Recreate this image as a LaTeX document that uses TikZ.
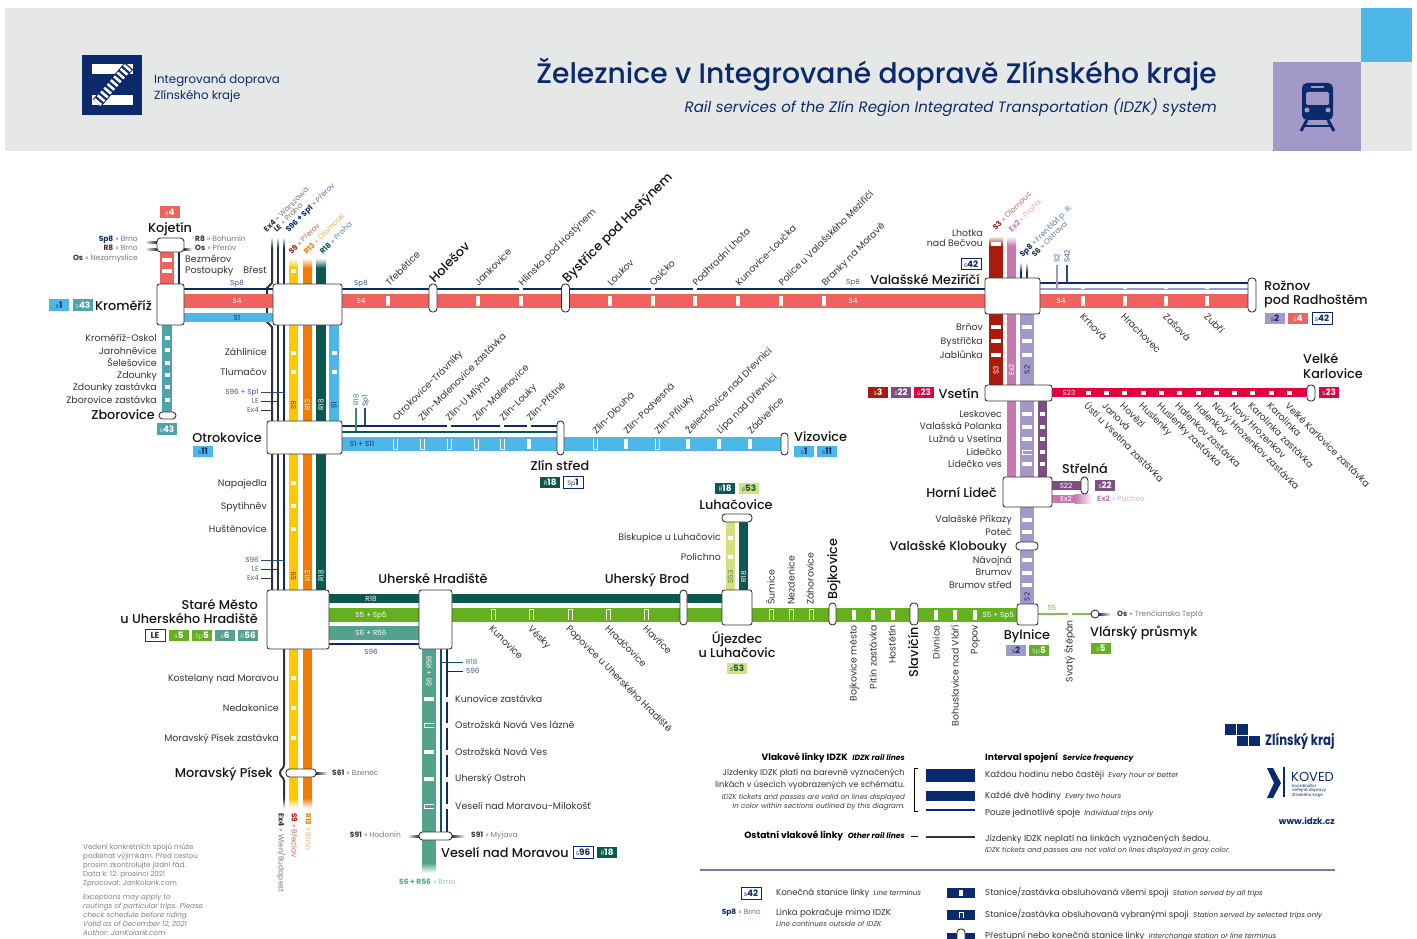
\documentclass[tikz,border=0pt]{standalone}
\usepackage{fontspec}
\setmainfont{Poppins}
\newfontfamily\cityfont{Poppins Medium}
\usetikzlibrary{backgrounds}
\definecolor{colNavy}{RGB}{11,42,107}
\definecolor{colHead}{RGB}{230,232,231}
\definecolor{colS1}{RGB}{77,184,232}
\definecolor{colS2}{RGB}{163,153,201}
\definecolor{colS3}{RGB}{168,28,16}
\definecolor{colS4}{RGB}{240,98,93}
\definecolor{colS5}{RGB}{100,176,31}
\definecolor{colS6}{RGB}{83,163,140}
\definecolor{colS9}{RGB}{255,200,0}
\definecolor{colS22}{RGB}{123,79,127}
\definecolor{colS23}{RGB}{228,0,63}
\definecolor{colS43}{RGB}{80,163,172}
\definecolor{colS53}{RGB}{214,224,127}
\definecolor{colR13}{RGB}{244,123,0}
\definecolor{colR18}{RGB}{10,88,80}
\definecolor{colEx2}{RGB}{200,120,176}
\definecolor{colGrey}{RGB}{51,51,51}
\tikzset{
  stationbox/.style={draw=black!80,fill=white,line width=0.9pt,rounded corners=2.5pt,inner sep=0},
  stationpill/.style={stationbox,rounded corners=3.5pt},
  stoplbl/.style={font=\fontsize{9.4}{10}\selectfont,text=black!80,inner sep=0,text height=8pt,text depth=1pt},
  citylbl/.style={font=\cityfont\fontsize{12.8}{14}\selectfont,text=black!92,inner sep=0,text height=11.5pt,text depth=1.5pt},
  linelbl/.style={font=\fontsize{7.2}{8}\selectfont,inner sep=0,text height=6pt,text depth=1pt},
  extlbl/.style={font=\fontsize{7.5}{8}\selectfont,inner sep=0,text height=6pt,text depth=1pt},
  notelbl/.style={font=\fontsize{8.6}{9}\selectfont,text=black!80,inner sep=0,text height=6.8pt,text depth=1.4pt},
  boldlbl/.style={font=\fontsize{9.1}{10}\selectfont\bfseries,text=black,inner sep=0,text height=6.8pt,text depth=1.4pt},
  smalllbl/.style={font=\fontsize{7.1}{8}\selectfont\itshape,text=black!75,inner sep=0,text height=6pt,text depth=1pt},
  greylbl/.style={font=\fontsize{7.1}{9}\selectfont,text=black!50,inner sep=0,align=left},
  badge/.style={minimum width=20pt,minimum height=11.5pt,inner sep=0,text=white,font=\fontsize{8.8}{9}\selectfont,text height=6.2pt,text depth=0pt},
  badgeline/.style={badge,draw=colNavy,fill=white,text=colNavy,line width=0.8pt},
  railnavy/.style={draw=colNavy,line width=2pt},
  railgrey/.style={draw=colGrey,line width=2pt},
}
\def\bnum#1#2{{\color{.!70!gray}\fontsize{6.4}{6}\selectfont #1}{\bfseries #2}}
\def\ext#1#2#3{\textcolor{#1}{\bfseries #2}\textcolor{#1!65}{\ »\ #3}}
\def\eng#1{\enspace{\fontsize{7.1}{8}\selectfont\itshape #1}}
\def\engb#1{\enspace{\fontsize{7.6}{8}\selectfont\itshape #1}}
\def\stopH#1#2{\fill[white] (#1-5,#2-2) rectangle (#1+5,#2+2);}
\def\stopS#1#2{\fill[white] (#1-2.5,#2-2) rectangle (#1+2.5,#2+2);}
\def\stopV#1#2{\fill[white] (#1-2,#2-5) rectangle (#1+2,#2+5);}
\def\holdV#1#2#3{\draw[white,line width=0.8pt] (#1-2,#2-#3*5.5) -- (#1-2,#2+#3*5.5) -- (#1+2,#2+#3*5.5) -- (#1+2,#2-#3*5.5);}
\def\holdH#1#2{\draw[white,line width=0.8pt] (#1+5,#2-2) -- (#1-5,#2-2) -- (#1-5,#2+2) -- (#1+5,#2+2);}
\def\gapmark#1#2{\fill[white] (#1-2,#2-2.5) rectangle (#1+2,#2+2.5);}
\begin{document}
\begin{tikzpicture}[x=1pt,y=-1pt]
\useasboundingbox (0,0) rectangle (1417,939);
% header
\fill[colHead] (5,8) rectangle (1412,151);
\fill[colS1] (1361,8) rectangle (1412,62);
\fill[colS2] (1273,62) rectangle (1361,151);
\fill[colNavy] (82,55) rectangle (142,115);
\fill[white] (92,64) rectangle (133,74);
\fill[white] (92,95) rectangle (133,105);
\draw[colNavy,line width=11pt] (97,103) -- (129,66);
\draw[white,line width=9pt,dash pattern=on 2.6pt off 2.4pt] (97,103) -- (129,66);
\node[anchor=west,inner sep=0,text=colNavy,font=\fontsize{11.8}{13}\selectfont,text height=10pt,text depth=0pt] (tLogoA) at (154,79) {Integrovaná doprava};
\node[anchor=west,inner sep=0,text=colNavy,font=\fontsize{11.8}{13}\selectfont,text height=10pt,text depth=0pt] (tLogoB) at (154,95) {Zlínského kraje};
\node[anchor=east,inner sep=0,text=colNavy,font=\cityfont\fontsize{28.2}{30}\selectfont,text height=25pt,text depth=2pt] (tTitle) at (1217,72) {Železnice v Integrované dopravě Zlínského kraje};
\node[anchor=east,inner sep=0,text=colNavy,font=\fontsize{15}{16}\selectfont\itshape,text height=14pt,text depth=0.5pt] (tSub) at (1217,106) {Rail services of the Zlín Region Integrated Transportation (IDZK) system};
% train
\fill[colNavy,rounded corners=5pt] (1302,83) rectangle (1333,120);
\fill[colS2,rounded corners=1.5pt] (1306,92) rectangle (1329,105);
\fill[colS2] (1311,86) rectangle (1324,88);
\fill[colS2] (1307,110) circle (2.5);
\fill[colS2] (1328,110) circle (2.5);
\draw[colNavy,line width=3pt] (1307,120) -- (1301,131);
\draw[colNavy,line width=3pt] (1328,120) -- (1334,131);
\draw[colNavy,line width=2pt] (1304,126) -- (1331,126);
% stations
\node[stationpill,minimum width=27pt,minimum height=14pt] (kojetin) at (170.5,245) {};
\node[stationbox,minimum width=27pt,minimum height=41pt] (kromeriz) at (170.5,304.5) {};
\node[stationpill,minimum width=17pt,minimum height=7pt] (zborovice) at (167.5,415.5) {};
\node[stationbox,minimum width=69pt,minimum height=41pt] (brest) at (307.5,304.5) {};
\node[stationbox,minimum width=75pt,minimum height=33pt] (otrokovice) at (304.5,437.5) {};
\node[stationbox,minimum width=62pt,minimum height=59pt] (staremesto) at (298,619.5) {};
\node[stationpill,minimum width=30pt,minimum height=8pt] (moravskypisek) at (301,773) {};
\node[stationbox,minimum width=33pt,minimum height=59pt] (uherskehradiste) at (435.5,619.5) {};
\node[stationpill,minimum width=33pt,minimum height=8pt] (veseli) at (435.5,836) {};
\node[stationpill,minimum width=8pt,minimum height=28pt] (holesov) at (433,298) {};
\node[stationpill,minimum width=8pt,minimum height=28pt] (bystrice) at (565.5,298) {};
\node[stationpill,minimum width=7pt,minimum height=34pt] (zlin) at (560.5,438) {};
\node[stationpill,minimum width=7pt,minimum height=22pt] (vizovice) at (784.5,444) {};
\node[stationpill,minimum width=7pt,minimum height=35pt] (uherskybrod) at (683.5,607.5) {};
\node[stationbox,minimum width=30pt,minimum height=35pt] (ujezdec) at (737,607.5) {};
\node[stationpill,minimum width=30pt,minimum height=8pt] (luhacovice) at (737,518) {};
\node[stationpill,minimum width=7pt,minimum height=22pt] (bojkovice) at (832.5,614) {};
\node[stationpill,minimum width=8pt,minimum height=22pt] (slavicin) at (914,614) {};
\node[stationbox,minimum width=21pt,minimum height=21pt] (bylnice) at (1027.5,614.5) {};
\node[stationpill,minimum width=8pt,minimum height=8pt,rounded corners=4pt] (vlarsky) at (1095,614) {};
\node[stationbox,minimum width=55pt,minimum height=36pt] (valmez) at (1012.5,296) {};
\node[stationpill,minimum width=8pt,minimum height=34pt] (roznov) at (1252,295) {};
\node[stationbox,minimum width=67pt,minimum height=16pt] (vsetin) at (1018.5,393) {};
\node[stationpill,minimum width=8pt,minimum height=16pt] (karlovice) at (1311,393) {};
\node[stationbox,minimum width=49pt,minimum height=30pt] (hornilidec) at (1027.5,492) {};
\node[stationpill,minimum width=7pt,minimum height=17pt] (strelna) at (1084.5,485.5) {};
\node[stationpill,minimum width=22pt,minimum height=8pt] (klobouky) at (1027,546) {};
% levels of the lines
\coordinate (ySp8) at (0,289);
\coordinate (yS4) at (0,301);
\coordinate (yS1) at (0,317.5);
\coordinate (yNavyZ) at (0,425.5);
\coordinate (yR18Z) at (0,431.5);
\coordinate (yS11) at (0,444);
\coordinate (yR18H) at (0,598.5);
\coordinate (yS5) at (0,614.5);
\coordinate (yS6) at (0,632.5);
\coordinate (yS96) at (0,644);
\coordinate (yNavyR) at (0,283);
\coordinate (yS2R) at (0,289);
\coordinate (yS23) at (0,392.5);
\coordinate (yS22) at (0,485.5);
\coordinate (yEx2H) at (0,499);
\coordinate (xKoj) at (167,0);
\coordinate (xKojN) at (179,0);
\coordinate (xEx) at (272,0);
\coordinate (xLE) at (278,0);
\coordinate (xSp1) at (284,0);
\coordinate (xS9) at (293.5,0);
\coordinate (xR13) at (307.5,0);
\coordinate (xR18) at (321,0);
\coordinate (xS1) at (334,0);
\coordinate (xS6) at (429,0);
\coordinate (xR18V) at (441,0);
\coordinate (xS96V) at (447,0);
\coordinate (xS53) at (730.5,0);
\coordinate (xR18L) at (743.5,0);
\coordinate (xS3) at (996,0);
\coordinate (xEx2) at (1011.5,0);
\coordinate (xS2) at (1027,0);
\coordinate (xS22) at (1042.5,0);
\begin{scope}[on background layer]
\draw[railnavy] (xKojN |- kojetin) -- (xKojN |- ySp8);
\draw[colS43,line width=10pt] (xKoj |- kromeriz) -- (xKoj |- zborovice);
\draw[colS4,line width=14pt] (xKoj |- kojetin) -- (xKoj |- kromeriz);
\shade[left color=white,right color=colNavy] (145,241) rectangle (157,243);
\shade[left color=white,right color=colGrey] (145,248) rectangle (157,250);
\shade[left color=colGrey,right color=white] (184,248) rectangle (192,250);
% lines from the north to Stare Mesto
\shade[top color=white,bottom color=colGrey] (271,237) rectangle (273,248);
\shade[top color=white,bottom color=colGrey] (277,237) rectangle (279,248);
\shade[top color=white,bottom color=colNavy] (283,237) rectangle (285,248);
\draw[railgrey] (272,248) -- (272,283) -- (267,288) -- (267,322) -- (272,327) -- (xEx |- staremesto);
\draw[railgrey] (278,248) -- (xLE |- staremesto);
\draw[railnavy] (284,248) -- (xSp1 |- staremesto);
% main line
\draw[railnavy] (kromeriz |- ySp8) -- (valmez |- ySp8);
\draw[railnavy] (valmez |- yNavyR) -- (roznov |- yNavyR);
\draw[draw=colS2,line width=2pt] (valmez |- yS2R) -- (roznov |- yS2R);
\draw[colS4,line width=14pt] (kromeriz |- yS4) -- (roznov |- yS4);
\draw[colS1,line width=9.5pt] (kromeriz |- yS1) -- (brest |- yS1);
\draw[draw=colS2,line width=1.2pt] (1057,265) -- (1057,289);
\draw[draw=colNavy!85,line width=1.2pt] (1067,265) -- (1067,283);
\shade[top color=white,bottom color=colS9] (289,258) rectangle (298,268);
\shade[top color=white,bottom color=colR13] (303,258) rectangle (312,268);
\shade[top color=white,bottom color=colR18] (316,258) rectangle (326,268);
\draw[colS9,line width=9.5pt] (293.5,268) -- (xS9 |- staremesto);
\draw[colR13,line width=9.5pt] (307.5,268) -- (xR13 |- staremesto);
\draw[colR18,line width=9.5pt] (321,268) -- (xR18 |- staremesto);
\draw[colS1,line width=9.5pt] (xS1 |- brest) -- (xS1 |- otrokovice);
% to Zlin and Vizovice
\draw[railnavy] (otrokovice |- yNavyZ) -- (zlin |- yNavyZ);
\draw[colR18,line width=2pt] (otrokovice |- yR18Z) -- (zlin |- yR18Z);
\draw[colS1,line width=14pt] (otrokovice |- yS11) -- (vizovice |- yS11);
\draw[draw=colS6!80!black,line width=1.2pt] (356,408) -- (356,431);
\draw[draw=colNavy!85,line width=1.2pt] (365,408) -- (365,425);
% side labels of the north lines
\draw[draw=colNavy!85,line width=1pt] (261,392) -- (284,392);
\draw[draw=colGrey,line width=1pt] (261,401) -- (278,401);
\draw[draw=colGrey,line width=1pt] (261,410) -- (272,410);
\draw[draw=colNavy!85,line width=1pt] (261,560) -- (284,560);
\draw[draw=colGrey,line width=1pt] (261,569) -- (278,569);
\draw[draw=colGrey,line width=1pt] (261,578) -- (272,578);
% south of Stare Mesto
\draw[railgrey] (284,649) -- (284,765) .. controls (284,769) and (280,769) .. (280,773) .. controls (280,777) and (284,777) .. (284,781) -- (284,798);
\shade[top color=colGrey,bottom color=white] (283,798) rectangle (285,808);
\draw[colS9,line width=9.5pt] (xS9 |- staremesto) -- (293.5,798);
\draw[colR13,line width=9.5pt] (xR13 |- staremesto) -- (307.5,798);
\shade[top color=colS9,bottom color=white] (289,798) rectangle (298,808);
\shade[top color=colR13,bottom color=white] (303,798) rectangle (312,808);
\shade[left color=colGrey,right color=white] (316,772) rectangle (328,774);
% to Uhersky Brod and Bylnice
\draw[colR18,line width=9.5pt] (staremesto |- yR18H) -- (ujezdec |- yR18H);
\draw[colS5,line width=14pt] (staremesto |- yS5) -- (bylnice |- yS5);
\draw[colS6,line width=14pt] (staremesto |- yS6) -- (uherskehradiste |- yS6);
\draw[railnavy] (staremesto |- yS96) -- (uherskehradiste |- yS96);
% to Veseli
\draw[colS6,line width=14pt] (xS6 |- uherskehradiste) -- (429,863);
\shade[top color=colS6,bottom color=white] (422,863) rectangle (436,873);
\draw[colR18,line width=2pt] (xR18V |- uherskehradiste) -- (xR18V |- veseli);
\draw[railnavy] (xS96V |- uherskehradiste) -- (xS96V |- veseli);
\draw[colR18,line width=1pt] (441,662) -- (463,662);
\draw[draw=colNavy,line width=1pt] (447,671) -- (463,671);
\shade[left color=white,right color=colGrey] (407,835) rectangle (419,837);
\shade[left color=colGrey,right color=white] (452,835) rectangle (465,837);
% Luhacovice
\draw[colS53,line width=9.5pt] (xS53 |- ujezdec) -- (xS53 |- luhacovice);
\draw[colR18,line width=9.5pt] (xR18L |- ujezdec) -- (xR18L |- luhacovice);
% Vlarsky
\draw[colS5!80!white,line width=2pt] (bylnice |- vlarsky) -- (vlarsky);
\shade[left color=colGrey,right color=white] (1099,613) rectangle (1111,615);
% Valasske Mezirici to Bylnice
\shade[top color=white,bottom color=colS3] (989,236) rectangle (1003,246);
\shade[top color=white,bottom color=colEx2] (1007,236) rectangle (1016,246);
\shade[top color=white,bottom color=colNavy] (1020,262) rectangle (1022,272);
\shade[top color=white,bottom color=colGrey] (1026,262) rectangle (1028,272);
\draw[railnavy] (1021,272) -- (1021,280);
\draw[railgrey] (1027,272) -- (1027,280);
\draw[colS3,line width=14pt] (996,246) -- (xS3 |- vsetin);
\draw[colEx2,line width=9.5pt] (1011.5,246) -- (xEx2 |- hornilidec);
\draw[colS2,line width=14pt] (xS2 |- valmez) -- (xS2 |- bylnice);
\draw[colS22,line width=9.5pt] (xS22 |- vsetin) -- (xS22 |- hornilidec);
\draw[colS23,line width=9.5pt] (vsetin |- yS23) -- (karlovice |- yS23);
\draw[colS22,line width=9.5pt] (hornilidec |- yS22) -- (strelna |- yS22);
\draw[colEx2,line width=8.5pt] (hornilidec |- yEx2H) -- (1075,499);
\shade[left color=colEx2,right color=white] (1075,494.75) rectangle (1093,503.25);
% stops
\stopH{167}{260} \stopH{167}{271}
\stopS{167}{338} \stopS{167}{350} \stopS{167}{363} \stopS{167}{375} \stopS{167}{387} \stopS{167}{400}
\stopS{293.5}{271} \stopS{293.5}{353} \stopS{293.5}{372} \stopS{334}{353} \stopS{334}{372}
\stopS{293.5}{483} \stopS{293.5}{506} \stopS{293.5}{529}
\stopS{293.5}{678} \stopS{293.5}{708} \stopS{293.5}{738}
\stopV{388}{301} \stopV{478}{301} \stopV{521}{301} \stopV{610}{301} \stopV{653}{301} \stopV{695}{301} \stopV{738}{301} \stopV{781}{301} \stopV{824}{301}
\stopV{1083}{301} \stopV{1125}{301} \stopV{1166}{301} \stopV{1207}{301}
\gapmark{521}{289} \gapmark{653}{289} \gapmark{695}{289}
\gapmark{1083}{286} \gapmark{1125}{286} \gapmark{1166}{286} \gapmark{1207}{286}
\holdV{395}{444}{1} \holdV{422}{444}{1} \holdV{449}{444}{1} \holdV{476}{444}{1} \holdV{502}{444}{1} \stopV{529}{444}
\holdV{595}{444}{1} \stopV{626}{444} \holdV{657}{444}{1} \stopV{688}{444} \stopV{719}{444} \stopV{750}{444}
\gapmark{449}{425.5} \gapmark{502}{425.5} \gapmark{529}{425.5}
\holdV{493}{614.5}{-1} \holdV{531}{614.5}{-1} \holdV{570}{614.5}{-1} \holdV{608}{614.5}{-1} \holdV{646}{614.5}{-1}
\holdV{771}{614.5}{-1} \holdV{791}{614.5}{-1} \holdV{811}{614.5}{-1}
\stopV{854}{614.5} \stopV{873}{614.5} \stopV{893}{614.5} \stopV{936}{614.5} \stopV{955}{614.5} \stopV{975}{614.5}
\gapmark{1070}{614}
\stopS{730.5}{538} \stopS{730.5}{557}
\stopH{429}{699} \holdH{429}{725} \stopH{429}{752} \stopH{429}{779} \holdH{429}{806}
\gapmark{448}{699} \gapmark{448}{725} \gapmark{448}{752} \gapmark{448}{779} \gapmark{448}{806}
\stopH{996}{244} \stopH{996}{327} \stopH{996}{341} \stopH{996}{355}
\stopH{1027}{327} \stopH{1027}{341} \stopH{1027}{355}
\stopH{1027}{414} \stopH{1027}{427} \stopH{1027}{439} \holdH{1027}{452} \stopH{1027}{464}
\stopS{1042.5}{414} \stopS{1042.5}{427} \stopS{1042.5}{439} \stopS{1042.5}{452} \stopS{1042.5}{464}
\stopH{1027}{520} \stopH{1027}{532} \stopH{1027}{560} \stopH{1027}{573} \stopH{1027}{585}
\stopS{1088}{393} \stopS{1106}{393} \stopS{1124}{393} \stopS{1143}{393} \stopS{1161}{393} \stopS{1179}{393} \stopS{1198}{393} \stopS{1216}{393} \stopS{1234}{393} \stopS{1252}{393} \stopS{1271}{393} \stopS{1289}{393}
\end{scope}
% Kojetin and Kromeriz
\node[citylbl,anchor=center] (tKojetin) at (170,228) {Kojetín};
\node[badge,fill=colS4] (bKojetin) at (170,212) {\bnum{s}{4}};
\node[extlbl,anchor=east] (xSp8Brno) at (138,239) {\ext{colNavy}{Sp8}{Brno}};
\node[extlbl,anchor=east] (xR8Brno) at (138,248) {\ext{colGrey}{R8}{Brno}};
\node[extlbl,anchor=east] (xOsNez) at (138,258) {\ext{colGrey}{Os}{Nezamyslice}};
\node[extlbl,anchor=west] (xR8Boh) at (195,239) {\ext{colGrey}{R8}{Bohumín}};
\node[extlbl,anchor=west] (xOsPrerov) at (195,248) {\ext{colGrey}{Os}{Přerov}};
\node[stoplbl,anchor=west] (sBezmerov) at (185,259) {Bezměrov};
\node[stoplbl,anchor=west] (sPostoupky) at (185,270) {Postoupky};
\node[stoplbl,anchor=east] (sBrest) at (267,270) {Břest};
\node[citylbl,anchor=east] (tKromeriz) at (152,305) {Kroměříž};
\node[badge,fill=colS1,text=colNavy] (bKromA) at (59,305) {\bnum{s}{1}};
\node[badge,fill=colS43] (bKromB) at (83,305) {\bnum{s}{43}};
\node[stoplbl,anchor=east] (sOskol) at (157,338) {Kroměříž-Oskol};
\node[stoplbl,anchor=east] (sJaroh) at (157,351) {Jarohněvice};
\node[stoplbl,anchor=east] (sSeles) at (157,363) {Šelešovice};
\node[stoplbl,anchor=east] (sZdounky) at (157,375) {Zdounky};
\node[stoplbl,anchor=east] (sZdounkyZ) at (157,387) {Zdounky zastávka};
\node[stoplbl,anchor=east] (sZborZ) at (157,400) {Zborovice zastávka};
\node[citylbl,anchor=east] (tZborovice) at (155,414) {Zborovice};
\node[badge,fill=colS43] (bZbor) at (167,429) {\bnum{s}{43}};
% lines at the top
\node[extlbl,rotate=45,anchor=west] (xEx4top) at (265,231) {\ext{colGrey}{Ex4}{Warszawa}};
\node[extlbl,rotate=45,anchor=west] (xLEtop) at (275,231) {\ext{colGrey}{LE}{Praha}};
\node[extlbl,rotate=45,anchor=west] (xS96top) at (287,231) {\ext{colNavy}{S96 + Sp1}{Přerov}};
\node[extlbl,rotate=45,anchor=west] (xS9top) at (290,253) {\ext{colS3}{S9}{Přerov}};
\node[extlbl,rotate=45,anchor=west] (xR13top) at (305,253) {\ext{colR13}{R13}{Olomouc}};
\node[extlbl,rotate=45,anchor=west] (xR18top) at (321,253) {\ext{colR18}{R18}{Praha}};
% on the lines
\node[linelbl,text=white] (lS4a) at (237,301) {S4};
\node[linelbl,text=white] (lS4b) at (361,301) {S4};
\node[linelbl,text=white] (lS4c) at (853,301) {S4};
\node[linelbl,text=white] (lS4d) at (1061,301) {S4};
\node[linelbl,text=colNavy!80] (lSp8a) at (237,283) {Sp8};
\node[linelbl,text=colNavy!80] (lSp8b) at (361,283) {Sp8};
\node[linelbl,text=colNavy!80] (lSp8c) at (853,282) {Sp8};
\node[linelbl,text=colNavy] (lS1) at (237,317.5) {S1};
\node[linelbl,text=colNavy] (lS11) at (362,444) {S1 + S11};
\node[linelbl,rotate=90,text=colS3] (lS9a) at (293.5,405) {S9};
\node[linelbl,rotate=90,text=white] (lR13a) at (307.5,405) {R13};
\node[linelbl,rotate=90,text=white] (lR18a) at (321,405) {R18};
\node[linelbl,rotate=90,text=colNavy] (lS1v) at (334,405) {S1};
\node[linelbl,rotate=90,text=colS3] (lS9b) at (293.5,576) {S9};
\node[linelbl,rotate=90,text=white] (lR13b) at (307.5,576) {R13};
\node[linelbl,rotate=90,text=white] (lR18b) at (321,576) {R18};
\node[linelbl,rotate=90,text=colS6!80!black] (lR18z) at (356,400) {R18};
\node[linelbl,rotate=90,text=colNavy!80] (lSp1z) at (365,401) {Sp1};
\node[linelbl,anchor=east,text=colNavy!80] (lS96a) at (259,392) {S96 + Sp1};
\node[linelbl,anchor=east,text=black!60] (lLEa) at (259,401) {LE};
\node[linelbl,anchor=east,text=black!60] (lEx4a) at (259,410) {Ex4};
\node[linelbl,anchor=east,text=colNavy!80] (lS96b) at (259,560) {S96};
\node[linelbl,anchor=east,text=black!60] (lLEb) at (259,569) {LE};
\node[linelbl,anchor=east,text=black!60] (lEx4b) at (259,578) {Ex4};
\node[linelbl,text=white] (lR18h) at (371,599) {R18};
\node[linelbl,text=white] (lS5h) at (371,615) {S5 + Sp5};
\node[linelbl,text=white] (lS6h) at (371,633) {S6 + R56};
\node[linelbl,text=colNavy!80] (lS96h) at (371,652) {S96};
\node[linelbl,rotate=90,text=white] (lS6v) at (429,671) {S6 + R56};
\node[linelbl,anchor=west,text=colS6!80!black] (lR18v) at (466,662) {R18};
\node[linelbl,anchor=west,text=colNavy!80] (lS96v) at (466,671) {S96};
\node[linelbl,anchor=east,text=white] (lS5r) at (1014,614.5) {S5 + Sp5};
\node[linelbl,text=colS5!80!white] (lS5t) at (1052,608) {S5};
\node[linelbl,rotate=90,text=colS6!80!black] (lS53) at (730.5,577) {S53};
\node[linelbl,rotate=90,text=white] (lR18l) at (743.5,577) {R18};
\node[linelbl,rotate=90,text=white] (lS3) at (996,370) {S3};
\node[linelbl,rotate=90,text=white] (lEx2) at (1011.5,370) {Ex2};
\node[linelbl,rotate=90,text=colNavy] (lS2) at (1027,370) {S2};
\node[linelbl,rotate=90,text=colNavy] (lS2b) at (1027,597) {S2};
\node[linelbl,text=white] (lS23) at (1069,393) {S23};
\node[linelbl,text=white] (lS22) at (1066,485.5) {S22};
\node[linelbl,text=white] (lEx2h) at (1066,499) {Ex2};
\node[linelbl,rotate=90,anchor=west,text=colNavy!80] (lS2t) at (1057,263) {S2};
\node[linelbl,rotate=90,anchor=west,text=colNavy!80] (lS42t) at (1067,263) {S42};
% stops of the main line
\node[stoplbl,rotate=45,anchor=west] (sTreb) at (387,284) {Třebětice};
\node[citylbl,rotate=45,anchor=west] (tHolesov) at (431,280) {Holešov};
\node[stoplbl,rotate=45,anchor=west] (sJank) at (476,284) {Jankovice};
\node[stoplbl,rotate=45,anchor=west] (sHlin) at (520,284) {Hlinsko pod Hostýnem};
\node[citylbl,rotate=45,anchor=west] (tBystrice) at (564,280) {Bystřice pod Hostýnem};
\node[stoplbl,rotate=45,anchor=west] (sLoukov) at (609,284) {Loukov};
\node[stoplbl,rotate=45,anchor=west] (sOsicko) at (651,284) {Osíčko};
\node[stoplbl,rotate=45,anchor=west] (sPodhr) at (694,284) {Podhradní Lhota};
\node[stoplbl,rotate=45,anchor=west] (sKunov) at (737,284) {Kunovice-Loučka};
\node[stoplbl,rotate=45,anchor=west] (sPolice) at (780,284) {Police u Valašského Meziříčí};
\node[stoplbl,rotate=45,anchor=west] (sBranky) at (823,284) {Branky na Moravě};
\node[citylbl,anchor=east] (tValmez) at (980,279) {Valašské Meziříčí};
\node[stoplbl,anchor=east] (sLhotkaA) at (983,233) {Lhotka};
\node[stoplbl,anchor=east] (sLhotkaB) at (983,243) {nad Bečvou};
\node[badgeline] (bValmez) at (971,264) {\bnum{s}{42}};
\node[extlbl,rotate=45,anchor=west] (xS3top) at (994,229) {\ext{colS3}{S3}{Olomouc}};
\node[extlbl,rotate=45,anchor=west] (xEx2top) at (1010,231) {\ext{colEx2}{Ex2}{Praha}};
\node[extlbl,rotate=45,anchor=west] (xSp8top) at (1021,256) {\ext{colNavy}{Sp8}{Frenštát p. R.}};
\node[extlbl,rotate=45,anchor=west] (xS6top) at (1033,256) {\ext{colGrey}{S6}{Ostrava}};
\node[stoplbl,rotate=-45,anchor=west] (sKrhova) at (1082,315) {Krhová};
\node[stoplbl,rotate=-45,anchor=west] (sHrach) at (1123,315) {Hrachovec};
\node[stoplbl,rotate=-45,anchor=west] (sZasova) at (1165,315) {Zašová};
\node[stoplbl,rotate=-45,anchor=west] (sZubri) at (1206,315) {Zubří};
\node[citylbl,anchor=west] (tRoznovA) at (1264,285) {Rožnov};
\node[citylbl,anchor=west] (tRoznovB) at (1264,299) {pod Radhoštěm};
\node[badge,fill=colS2,text=colNavy] (bRozA) at (1275,318.5) {\bnum{s}{2}};
\node[badge,fill=colS4] (bRozB) at (1298,318.5) {\bnum{s}{4}};
\node[badgeline] (bRozC) at (1322,318.5) {\bnum{s}{42}};
% Otrokovice to Vizovice
\node[citylbl,anchor=east] (tOtrokovice) at (262,437) {Otrokovice};
\node[badge,fill=colS1,text=colNavy] (bOtrok) at (203,451.5) {\bnum{s}{11}};
\node[stoplbl,anchor=east] (sZahl) at (267,352) {Záhlinice};
\node[stoplbl,anchor=east] (sTlum) at (267,372) {Tlumačov};
\node[stoplbl,rotate=45,anchor=west] (sOtrTr) at (394,419) {Otrokovice-Trávníky};
\node[stoplbl,rotate=45,anchor=west] (sZlMz) at (420,419) {Zlín-Malenovice zastávka};
\node[stoplbl,rotate=45,anchor=west] (sZlUm) at (447,419) {Zlín-U Mlýna};
\node[stoplbl,rotate=45,anchor=west] (sZlMa) at (474,419) {Zlín-Malenovice};
\node[stoplbl,rotate=45,anchor=west] (sZlLo) at (501,419) {Zlín-Louky};
\node[stoplbl,rotate=45,anchor=west] (sZlPr) at (528,419) {Zlín-Přštné};
\node[stoplbl,rotate=45,anchor=west] (sZlDl) at (594,432) {Zlín-Dlouhá};
\node[stoplbl,rotate=45,anchor=west] (sZlPo) at (625,432) {Zlín-Podvesná};
\node[stoplbl,rotate=45,anchor=west] (sZlPl) at (656,432) {Zlín-Příluky};
\node[stoplbl,rotate=45,anchor=west] (sZele) at (687,432) {Želechovice nad Dřevnicí};
\node[stoplbl,rotate=45,anchor=west] (sLipa) at (718,432) {Lípa nad Dřevnicí};
\node[stoplbl,rotate=45,anchor=west] (sZadv) at (749,432) {Zádveřice};
\node[citylbl,anchor=center] (tZlin) at (560,465) {Zlín střed};
\node[badge,fill=colR18] (bZlinA) at (550,482.5) {\bnum{R}{18}};
\node[badgeline] (bZlinB) at (573,482.5) {\bnum{Sp}{1}};
\node[citylbl,anchor=west] (tVizovice) at (794,436) {Vizovice};
\node[badge,fill=colS1,text=colNavy] (bVizA) at (804,451.5) {\bnum{s}{1}};
\node[badge,fill=colS1,text=colNavy] (bVizB) at (827,451.5) {\bnum{s}{11}};
% Otrokovice to Stare Mesto
\node[stoplbl,anchor=east] (sNapa) at (267,483) {Napajedla};
\node[stoplbl,anchor=east] (sSpyt) at (267,506) {Spytihněv};
\node[stoplbl,anchor=east] (sHust) at (267,529) {Huštěnovice};
\node[citylbl,anchor=east] (tStareA) at (258,604) {Staré Město};
\node[citylbl,anchor=east] (tStareB) at (258,618) {u Uherského Hradiště};
\node[badgeline,draw=colGrey,text=colGrey] (bStLE) at (155,635.5) {\bfseries LE};
\node[badge,fill=colS5] (bStA) at (179,635.5) {\bnum{s}{5}};
\node[badge,fill=colS5] (bStB) at (202,635.5) {\bnum{Sp}{5}};
\node[badge,fill=colS6] (bStC) at (225,635.5) {\bnum{s}{6}};
\node[badge,fill=colS6] (bStD) at (248,635.5) {\bnum{R}{56}};
\node[stoplbl,anchor=east] (sKost) at (279,678) {Kostelany nad Moravou};
\node[stoplbl,anchor=east] (sNeda) at (279,708) {Nedakonice};
\node[stoplbl,anchor=east] (sMpZ) at (279,738) {Moravský Písek zastávka};
\node[citylbl,anchor=east] (tMoravsky) at (273,772) {Moravský Písek};
\node[extlbl,anchor=west] (xS61) at (332,773) {\ext{colGrey}{S61}{Bzenec}};
\node[extlbl,rotate=-90,anchor=west] (xEx4bot) at (281,813) {\ext{colGrey}{Ex4}{Wien/Budapest}};
\node[extlbl,rotate=-90,anchor=west] (xS9bot) at (294,813) {\ext{colS3}{S9}{Břeclav}};
\node[extlbl,rotate=-90,anchor=west] (xR13bot) at (308,813) {\ext{colR13}{R13}{Brno}};
% Uherske Hradiste and Veseli
\node[citylbl,anchor=center] (tUH) at (433,578) {Uherské Hradiště};
\node[stoplbl,anchor=west] (sKunZ) at (455,699) {Kunovice zastávka};
\node[stoplbl,anchor=west] (sOnvL) at (455,725) {Ostrožská Nová Ves lázně};
\node[stoplbl,anchor=west] (sOnv) at (455,752) {Ostrožská Nová Ves};
\node[stoplbl,anchor=west] (sUO) at (455,778) {Uherský Ostroh};
\node[stoplbl,anchor=west] (sVeMi) at (455,806) {Veselí nad Moravou-Milokošť};
\node[extlbl,anchor=east] (xS91a) at (401,835) {\ext{colGrey}{S91}{Hodonín}};
\node[extlbl,anchor=west] (xS91b) at (471,835) {\ext{colGrey}{S91}{Myjava}};
\node[citylbl,anchor=west] (tVeseli) at (441,852) {Veselí nad Moravou};
\node[badgeline] (bVesA) at (583,852.5) {\bnum{s}{96}};
\node[badge,fill=colR18] (bVesB) at (607,852.5) {\bnum{R}{18}};
\node[extlbl,anchor=west] (xS6bot) at (399,882) {\ext{colS6}{S6 + R56}{Brno}};
% Uhersky Brod to Bylnice
\node[citylbl,anchor=center] (tBrod) at (647,578) {Uherský Brod};
\node[stoplbl,rotate=-45,anchor=west] (sKun) at (491,627) {Kunovice};
\node[stoplbl,rotate=-45,anchor=west] (sVes) at (530,627) {Vésky};
\node[stoplbl,rotate=-45,anchor=west] (sPop) at (568,627) {Popovice u Uherského Hradiště};
\node[stoplbl,rotate=-45,anchor=west] (sHrad) at (607,627) {Hradčovice};
\node[stoplbl,rotate=-45,anchor=west] (sHav) at (645,627) {Havřice};
\node[citylbl,anchor=center] (tUjezdecA) at (737,638) {Újezdec};
\node[citylbl,anchor=center] (tUjezdecB) at (737,652) {u Luhačovic};
\node[badge,fill=colS53,text=colR18] (bUj) at (737,668.5) {\bnum{s}{53}};
\node[citylbl,anchor=center] (tLuhac) at (736,504) {Luhačovice};
\node[badge,fill=colR18] (bLuA) at (725,488.5) {\bnum{R}{18}};
\node[badge,fill=colS53,text=colR18] (bLuB) at (749,488.5) {\bnum{s}{53}};
\node[stoplbl,anchor=east] (sBisk) at (721,537) {Biskupice u Luhačovic};
\node[stoplbl,anchor=east] (sPoli) at (721,557) {Polichno};
\node[stoplbl,rotate=90,anchor=west] (sSum) at (771,605) {Šumice};
\node[stoplbl,rotate=90,anchor=west] (sNez) at (791,605) {Nezdenice};
\node[stoplbl,rotate=90,anchor=west] (sZah) at (810,605) {Záhorovice};
\node[citylbl,rotate=90,anchor=west] (tBojk) at (832,600) {Bojkovice};
\node[stoplbl,rotate=90,anchor=east] (sBojM) at (853,625) {Bojkovice město};
\node[stoplbl,rotate=90,anchor=east] (sPit) at (873,625) {Pitín zastávka};
\node[stoplbl,rotate=90,anchor=east] (sHost) at (892,625) {Hostětín};
\node[citylbl,rotate=90,anchor=east] (tSlav) at (913,627) {Slavičín};
\node[stoplbl,rotate=90,anchor=east] (sDiv) at (936,625) {Divnice};
\node[stoplbl,rotate=90,anchor=east] (sBoh) at (955,625) {Bohuslavice nad Vláří};
\node[stoplbl,rotate=90,anchor=east] (sPopov) at (974,625) {Popov};
\node[stoplbl,rotate=90,anchor=east] (sStep) at (1069,620) {Svatý Štěpán};
\node[citylbl,anchor=center] (tBylnice) at (1027,634) {Bylnice};
\node[badge,fill=colS2,text=colNavy] (bBylA) at (1016,650.5) {\bnum{s}{2}};
\node[badge,fill=colS5] (bBylB) at (1039,650.5) {\bnum{Sp}{5}};
\node[citylbl,anchor=west] (tVlar) at (1090,631) {Vlárský průsmyk};
\node[badge,fill=colS5] (bVlar) at (1101,648.5) {\bnum{s}{5}};
\node[extlbl,anchor=west] (xOsTren) at (1117,614) {\ext{colGrey}{Os}{Trenčianska Teplá}};
% Vsetin
\node[stoplbl,anchor=east] (sBrnov) at (983,327) {Brňov};
\node[stoplbl,anchor=east] (sByst) at (983,341) {Bystřička};
\node[stoplbl,anchor=east] (sJabl) at (983,355) {Jablůnka};
\node[citylbl,anchor=east] (tVsetin) at (979,393) {Vsetín};
\node[badge,fill=colS3] (bVsA) at (878,392.5) {\bnum{s}{3}};
\node[badge,fill=colS22] (bVsB) at (901,392.5) {\bnum{s}{22}};
\node[badge,fill=colS23] (bVsC) at (924,392.5) {\bnum{s}{23}};
\node[stoplbl,anchor=east] (sLesk) at (1002,414) {Leskovec};
\node[stoplbl,anchor=east] (sValP) at (1002,426) {Valašská Polanka};
\node[stoplbl,anchor=east] (sLuzna) at (1002,439) {Lužná u Vsetína};
\node[stoplbl,anchor=east] (sLid) at (1002,452) {Lidečko};
\node[stoplbl,anchor=east] (sLidV) at (1002,464) {Lidečko ves};
\node[citylbl,anchor=east] (tHorni) at (997,492) {Horní Lideč};
\node[citylbl,anchor=center] (tStrelna) at (1085,468) {Střelná};
\node[badge,fill=colS22] (bStrel) at (1105,485.5) {\bnum{s}{22}};
\node[extlbl,anchor=west] (xEx2Puch) at (1097,499) {\ext{colEx2}{Ex2}{Púchov}};
\node[stoplbl,anchor=east] (sPrik) at (1012,519) {Valašské Příkazy};
\node[stoplbl,anchor=east] (sPotec) at (1012,532) {Poteč};
\node[citylbl,anchor=east,font=\cityfont\fontsize{12.4}{14}\selectfont] (tKlob) at (1007,545) {Valašské Klobouky};
\node[stoplbl,anchor=east] (sNav) at (1012,560) {Návojná};
\node[stoplbl,anchor=east] (sBrum) at (1012,572) {Brumov};
\node[stoplbl,anchor=east] (sBrumS) at (1012,585) {Brumov střed};
\node[citylbl,anchor=west] (tKarlA) at (1303,358) {Velké};
\node[citylbl,anchor=west] (tKarlB) at (1303,373) {Karlovice};
\node[badge,fill=colS23] (bKarl) at (1329,392.5) {\bnum{s}{23}};
\node[stoplbl,rotate=-45,anchor=west] (sUsti) at (1086,404) {Ústí u Vsetína zastávka};
\node[stoplbl,rotate=-45,anchor=west] (sJan) at (1104,404) {Janová};
\node[stoplbl,rotate=-45,anchor=west] (sHov) at (1122,404) {Hovězí};
\node[stoplbl,rotate=-45,anchor=west] (sHus) at (1141,404) {Huslenky};
\node[stoplbl,rotate=-45,anchor=west] (sHusZ) at (1159,404) {Huslenky zastávka};
\node[stoplbl,rotate=-45,anchor=west] (sHalZ) at (1177,404) {Halenkov zastávka};
\node[stoplbl,rotate=-45,anchor=west] (sHal) at (1196,404) {Halenkov};
\node[stoplbl,rotate=-45,anchor=west] (sNhZ) at (1214,404) {Nový Hrozenkov zastávka};
\node[stoplbl,rotate=-45,anchor=west] (sNh) at (1232,404) {Nový Hrozenkov};
\node[stoplbl,rotate=-45,anchor=west] (sKarZ) at (1250,404) {Karolinka zastávka};
\node[stoplbl,rotate=-45,anchor=west] (sKar) at (1269,404) {Karolinka};
\node[stoplbl,rotate=-45,anchor=west] (sVkZ) at (1287,404) {Velké Karlovice zastávka};
% note on the left
\node[greylbl,anchor=north west] (tNoteCz) at (83,843) {Vedení konkrétních spojů může\\podléhat výjimkám. Před cestou\\prosím zkontrolujte jízdní řád.\\Data k: 12. prosinci 2021\\Zpracoval: JanKolarik.com};
\node[greylbl,anchor=north west,font=\fontsize{7.1}{9}\selectfont\itshape] (tNoteEn) at (83,894) {Exceptions may apply to\\routings of particular trips. Please\\check schedule before riding.\\Valid as of December 12, 2021\\Author: JanKolarik.com};
% legend
\node[boldlbl,anchor=east] (gVlak) at (905,758) {Vlakové linky IDZK\engb{IDZK rail lines}};
\node[notelbl,anchor=east,font=\fontsize{8.3}{9}\selectfont] (gJizdA) at (905,773) {Jízdenky IDZK platí na barevně vyznačených};
\node[notelbl,anchor=east,font=\fontsize{8.3}{9}\selectfont] (gJizdB) at (905,785) {linkách v úsecích vyobrazených ve schématu.};
\node[smalllbl,anchor=east] (gTickA) at (905,797) {IDZK tickets and passes are valid on lines displayed};
\node[smalllbl,anchor=east] (gTickB) at (905,806) {in color within sections outlined by this diagram.};
\node[boldlbl,anchor=east] (gOst) at (905,836) {Ostatní vlakové linky\engb{Other rail lines}};
\draw[black,line width=0.8pt] (918,768) -- (914,768) -- (914,811) -- (918,811);
\draw[black,line width=0.8pt] (911,836) -- (918,836);
\fill[colNavy] (926,769) rectangle (975,782);
\fill[colNavy] (926,791) rectangle (975,801);
\fill[colNavy] (926,809) rectangle (975,811);
\fill[colGrey] (926,835.5) rectangle (975,837.5);
\node[boldlbl,anchor=west] (gInt) at (985,758) {Interval spojení\engb{Service frequency}};
\node[notelbl,anchor=west] (gHod) at (985,775) {Každou hodinu nebo častěji\eng{Every hour or better}};
\node[notelbl,anchor=west] (gDve) at (985,796) {Každé dvě hodiny\eng{Every two hours}};
\node[notelbl,anchor=west] (gPouze) at (985,813) {Pouze jednotlivé spoje\eng{Individual trips only}};
\node[notelbl,anchor=west] (gNepl) at (985,839) {Jízdenky IDZK neplatí na linkách vyznačených šedou.};
\node[smalllbl,anchor=west] (gNeplEn) at (985,850) {IDZK tickets and passes are not valid on lines displayed in gray color.};
\draw[colNavy!60,line width=1.2pt] (700,870) -- (1335,870);
\node[badgeline] (gBadge) at (751,893.5) {\bnum{s}{42}};
\node[notelbl,anchor=west] (gKon) at (776,893) {Konečná stanice linky\eng{Line terminus}};
\node[extlbl,anchor=east] (gExt) at (761,912) {\ext{colNavy}{Sp8}{Brno}};
\node[notelbl,anchor=west] (gLink) at (776,913) {Linka pokračuje mimo IDZK};
\node[smalllbl,anchor=west] (gLinkEn) at (776,924) {Line continues outside of IDZK};
\fill[colNavy] (947,888) rectangle (975,898);
\fill[white] (959,890) rectangle (963,896);
\fill[colNavy] (947,910) rectangle (975,920);
\draw[white,line width=0.8pt] (959,918) -- (959,912) -- (963,912) -- (963,918);
\fill[colNavy] (947,933) rectangle (975,943);
\node[stationpill,minimum width=8pt,minimum height=20pt] (gPill) at (961,939) {};
\node[notelbl,anchor=west] (gVsemi) at (985,893) {Stanice/zastávka obsluhovaná všemi spoji\eng{Station served by all trips}};
\node[notelbl,anchor=west] (gVybr) at (985,915) {Stanice/zastávka obsluhovaná vybranými spoji\eng{Station served by selected trips only}};
\node[notelbl,anchor=west] (gPrest) at (985,936) {Přestupní nebo konečná stanice linky\eng{Interchange station or line terminus}};
% logos
\fill[colNavy] (1225,724) rectangle (1236,735);
\fill[colNavy] (1237,724) rectangle (1248,735);
\fill[colNavy] (1237,736) rectangle (1248,746);
\fill[colNavy] (1249,736) rectangle (1260,746);
\node[anchor=west,inner sep=0,text=colNavy,font=\fontsize{15}{16}\selectfont\bfseries,xscale=0.78,text height=11pt,text depth=3pt] (gKraj) at (1265,741) {Zlínský kraj};
\fill[colNavy] (1267,768) -- (1273,768) -- (1281,783) -- (1273,798) -- (1267,798) -- (1274,783) -- cycle;
\draw[colNavy,line width=1.2pt] (1284,767) -- (1284,797);
\node[anchor=west,inner sep=0,text=colNavy,font=\fontsize{13}{14}\selectfont,text height=10pt,text depth=0pt] (gKoved) at (1291,776) {KOVED};
\node[anchor=north west,inner sep=0,text=colNavy,align=left,font=\fontsize{4.2}{4.4}\selectfont] (gKovedB) at (1292,784) {koordinátor\\veřejné dopravy\\Zlínského kraje};
\node[anchor=east,inner sep=0,text=colNavy,font=\fontsize{8.8}{9}\selectfont\bfseries,text height=6.4pt,text depth=1.8pt] (gWeb) at (1335,822) {www.idzk.cz};
\end{tikzpicture}
\end{document}
